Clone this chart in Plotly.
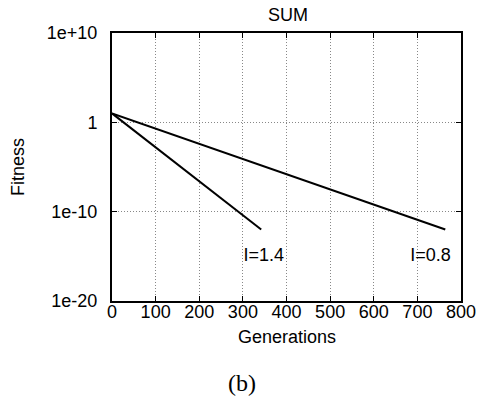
import plotly.graph_objects as go

# Data
gen_14 = [0, 342]
fit_14 = [10.0, 1e-12]
gen_08 = [0, 764]
fit_08 = [10.0, 1e-12]
series_labels = ["I=1.4", "I=0.8"]
label_x = [348, 730]
label_y = [10 ** -15.0, 10 ** -15.0]
x_ticks = [0, 100, 200, 300, 400, 500, 600, 700, 800]
y_ticks = [1e10, 1, 1e-10, 1e-20]
y_ticktext = ["1e+10", "1", "1e-10", "1e-20"]

font_sans = "Liberation Sans, Arial, sans-serif"
W, H = 477, 403
L, R, T, B = 112, 16, 33, 102
pw, ph = W - L - R, H - T - B

fig = go.Figure()
fig.add_trace(go.Scatter(x=gen_14, y=fit_14, mode="lines",
                         line=dict(color="black", width=2), showlegend=False))
fig.add_trace(go.Scatter(x=gen_08, y=fit_08, mode="lines",
                         line=dict(color="black", width=2), showlegend=False))
fig.add_trace(go.Scatter(x=label_x, y=label_y, mode="text", text=series_labels,
                         textfont=dict(family=font_sans, size=18, color="black"),
                         showlegend=False))

fig.update_layout(
    width=W, height=H,
    margin=dict(l=L, r=R, t=T, b=B, autoexpand=False),
    paper_bgcolor="white", plot_bgcolor="white",
    font=dict(family=font_sans, size=18, color="black"),
    xaxis=dict(range=[0, 800], tickvals=x_ticks, showgrid=True, automargin=False,
               gridcolor="#888", griddash="1px,2px", gridwidth=1,
               showline=True, linecolor="black", linewidth=2, mirror="ticks",
               ticks="inside", ticklen=5, tickcolor="black",
               zeroline=False, ticklabelstandoff=-7),
    yaxis=dict(type="log", range=[-20, 10], tickvals=y_ticks, ticktext=y_ticktext,
               automargin=False,
               showgrid=True, gridcolor="#888", griddash="1px,2px", gridwidth=1,
               showline=True, linecolor="black", linewidth=2, mirror="ticks",
               ticks="inside", ticklen=5, tickcolor="black",
               zeroline=False, ticklabelstandoff=9),
)

def px_annot(text, x, y, size, family=font_sans, angle=0):
    fig.add_annotation(text=text, x=(x - L) / pw, y=(H - B - y) / ph,
                       xref="paper", yref="paper", showarrow=False,
                       xanchor="center", yanchor="middle", textangle=angle,
                       font=dict(family=family, size=size, color="black"))

px_annot("SUM", 288, 15, 18)
px_annot("Generations", 287, 337, 18)
px_annot("Fitness", 18, 167, 18, angle=-90)
px_annot("(b)", 242, 383, 24, family="Liberation Serif, Times New Roman, serif")

fig.write_html("out.html", config={"displayModeBar": False},
               post_script="document.body.style.margin='0';document.body.style.overflow='hidden';")
